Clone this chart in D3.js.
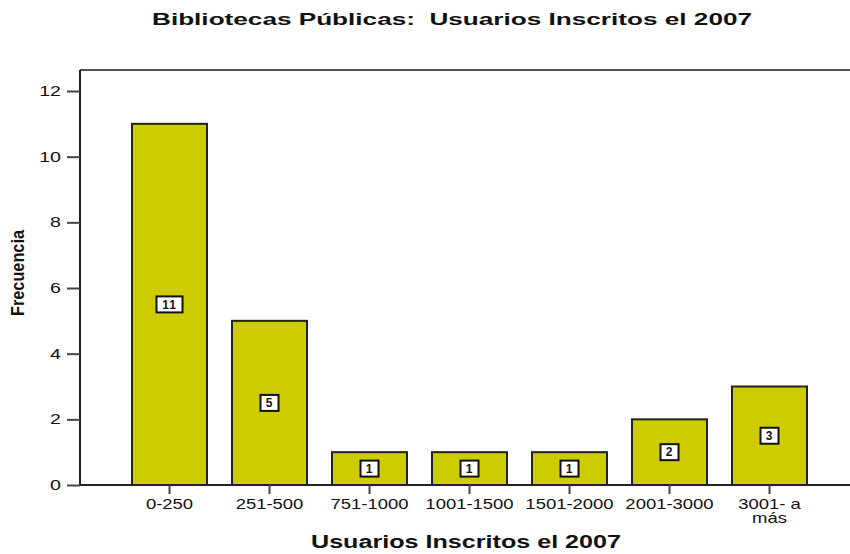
<!DOCTYPE html>
<html>
<head>
<meta charset="utf-8">
<script src="https://cdn.jsdelivr.net/npm/d3@7"></script>
<style>
	body { margin: 0; background: #fff; }
	svg text { font-family: "Liberation Sans", Arial, sans-serif; fill: #111; }
</style>
</head>
<body>
<svg id="chart" width="850" height="554"></svg>
<script>
// data
const categories = ["0-250", "251-500", "751-1000", "1001-1500", "1501-2000", "2001-3000", "3001- a más"];
const counts = [11, 5, 1, 1, 1, 2, 3];
const yTicks = [0, 2, 4, 6, 8, 10, 12];

const barFill = "#cccc00";

const svg = d3.select("#chart");
const margin = {top: 70, left: 80, bottom: 485};

const x = d3.scaleBand()
	.domain(categories)
	.range([margin.left, 859])
	.paddingInner(0.25)
	.paddingOuter(0.52);

const y = d3.scaleLinear()
	.domain([0, 12])
	.range([margin.bottom, 91]);

// frame: top line
svg.append("line")
	.attr("x1", margin.left).attr("x2", 850)
	.attr("y1", margin.top).attr("y2", margin.top)
	.attr("stroke", "#555").attr("stroke-width", 2);

// bars
svg.selectAll("rect.bar")
	.data(counts)
	.enter()
	.append("rect")
	.attr("class", "bar")
	.attr("x", (d, i) => x(categories[i]))
	.attr("y", d => y(d))
	.attr("width", x.bandwidth())
	.attr("height", d => y(0) - y(d))
	.attr("fill", barFill)
	.attr("stroke", "#222")
	.attr("stroke-width", 2);

// y axis
const yAxis = d3.axisLeft(y)
	.tickValues(yTicks)
	.tickSize(13)
	.tickPadding(6);

const gY = svg.append("g")
	.attr("transform", `translate(${margin.left},0)`)
	.call(yAxis);
gY.select(".domain").attr("stroke", "#222").attr("stroke-width", 2)
	.attr("d", `M0,${margin.top}V${margin.bottom}`);
gY.selectAll(".tick line").attr("stroke", "#444").attr("stroke-width", 2);
gY.selectAll(".tick text")
	.style("font-size", "14px")
	.attr("fill", "#222")
	.attr("transform", function() {
		const tx = d3.select(this).attr("x");
		return `translate(${tx},0) scale(1.4,1) translate(${-tx},0)`;
	});

// x axis
const xAxis = d3.axisBottom(x)
	.tickSize(9)
	.tickPadding(5);

const gX = svg.append("g")
	.attr("transform", `translate(0,${margin.bottom})`)
	.call(xAxis);
gX.select(".domain").attr("stroke", "#222").attr("stroke-width", 2)
	.attr("d", `M${margin.left},0H850`);
gX.selectAll(".tick line").attr("stroke", "#444").attr("stroke-width", 2);
gX.selectAll(".tick text")
	.style("font-size", "14px")
	.attr("fill", "#222")
	.attr("transform", "scale(1.32,1)")
	.each(function(d) {
		const t = d3.select(this);
		if (d === "3001- a más") {
			const parts = ["3001- a", "más"];
			t.text(null);
			t.selectAll("tspan")
				.data(parts)
				.enter()
				.append("tspan")
				.attr("x", 0)
				.attr("dy", (p, i) => i === 0 ? "0.71em" : "1.0em")
				.text(p => p);
			t.attr("dy", null);
		}
	});

// value labels in boxes
const labels = svg.selectAll("g.vlabel")
	.data(counts)
	.enter()
	.append("g")
	.attr("class", "vlabel")
	.attr("transform", (d, i) => `translate(${x(categories[i]) + x.bandwidth() / 2},${y(d / 2)})`);

labels.append("rect")
	.attr("x", d => d >= 10 ? -13 : -9)
	.attr("y", -8)
	.attr("width", d => d >= 10 ? 26 : 18)
	.attr("height", 16)
	.attr("fill", "#fff")
	.attr("stroke", "#111")
	.attr("stroke-width", 2);

labels.append("text")
	.attr("text-anchor", "middle")
	.attr("dy", "0.36em")
	.style("font-size", "12px")
	.style("font-weight", "bold")
	.style("letter-spacing", "1px")
	.text(d => d);

// titles
svg.append("text")
	.attr("x", 152).attr("y", 25)
	.attr("textLength", 600)
	.attr("lengthAdjust", "spacingAndGlyphs")
	.style("font-size", "17px")
	.style("font-weight", "bold")
	.style("white-space", "pre")
	.text("Bibliotecas Públicas:  Usuarios Inscritos el 2007");

svg.append("text")
	.attr("x", 311).attr("y", 548)
	.attr("textLength", 310)
	.attr("lengthAdjust", "spacingAndGlyphs")
	.style("font-size", "18px")
	.style("font-weight", "bold")
	.text("Usuarios Inscritos el 2007");

svg.append("text")
	.attr("transform", "translate(24,273) rotate(-90)")
	.attr("x", -43)
	.attr("textLength", 86)
	.attr("lengthAdjust", "spacingAndGlyphs")
	.style("font-size", "18px")
	.style("font-weight", "bold")
	.text("Frecuencia");
</script>
</body>
</html>
